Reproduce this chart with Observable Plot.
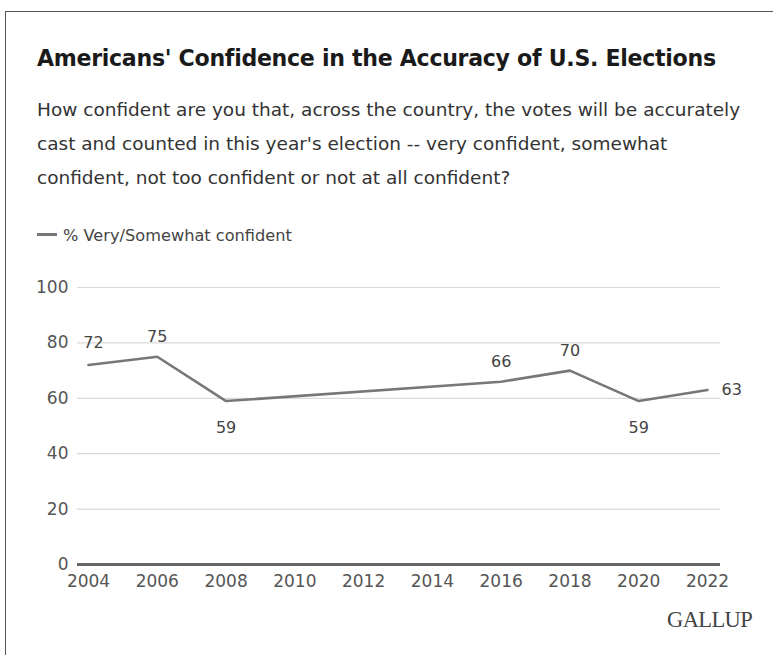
<!DOCTYPE html>
<html>
<head>
<meta charset="utf-8">
<script src="https://cdn.jsdelivr.net/npm/d3@7"></script>
<script src="https://cdn.jsdelivr.net/npm/@observablehq/plot@0.6"></script>
<style>
  html, body { margin: 0; padding: 0; background: #fff; width: 773px; height: 655px; overflow: hidden; }
  body { position: relative; font-family: "DejaVu Sans", sans-serif; }
  #frame { position: absolute; left: 5px; top: 11px; width: 800px; height: 700px; border: 1px solid #555; box-sizing: border-box; }
  #title { position: absolute; left: 37px; top: 45px; font-size: 22px; font-weight: bold; color: #1a1a1a; white-space: nowrap; letter-spacing: -0.3px; }
  #subtitle { position: absolute; left: 37px; top: 93px; width: 705px; font-size: 18.5px; line-height: 34px; color: #333; }
  #legend { position: absolute; left: 37px; top: 226px; font-size: 16.2px; color: #444; white-space: nowrap; }
  #legend .sw { display: inline-block; width: 20px; height: 3px; background: #777; vertical-align: middle; margin-right: 6px; position: relative; top: -2px; }
  #chart { position: absolute; left: 0; top: 260px; }
  #source { position: absolute; left: 667px; top: 607px; font-family: "Liberation Serif", "DejaVu Serif", serif; font-size: 22.5px; color: #444; letter-spacing: -0.6px; }
</style>
</head>
<body>
<div id="frame"></div>
<div id="title">Americans' Confidence in the Accuracy of U.S. Elections</div>
<div id="subtitle">How confident are you that, across the country, the votes will be accurately cast and counted in this year's election -- very confident, somewhat confident, not too confident or not at all confident?</div>
<div id="legend"><span class="sw"></span>% Very/Somewhat confident</div>
<div id="chart"></div>
<div id="source">GALLUP</div>
<script>
const years = [2004, 2006, 2008, 2016, 2018, 2020, 2022];
const values = [72, 75, 59, 66, 70, 59, 63];
const xTicks = [2004, 2006, 2008, 2010, 2012, 2014, 2016, 2018, 2020, 2022];
const yTicks = [0, 20, 40, 60, 80, 100];
const labelsAboveShifted = [2004];
const labelsAbove = [2006, 2016, 2018];
const labelsBelow = [2008, 2020];
const labelsRight = [2022];

// fit title width to the reference
const t = document.getElementById("title");
const w = t.getBoundingClientRect().width;
t.style.fontSize = (22 * 679 / w).toFixed(2) + "px";

const data = years.map((y, i) => ({year: y, value: values[i]}));
const pick = (list) => data.filter(d => list.includes(d.year));
const lbl = {x: "year", y: "value", text: d => String(d.value), fill: "#444", fontSize: 16};

const chart = Plot.plot({
  width: 773,
  height: 334,
  marginLeft: 77,
  marginRight: 53,
  marginTop: 27,
  marginBottom: 30,
  style: {fontFamily: "'DejaVu Sans', sans-serif", fontSize: "17px", color: "#555", background: "transparent"},
  x: {domain: [2004, 2022], insetLeft: 11, insetRight: 13, ticks: xTicks, tickFormat: "d", tickSize: 0, tickPadding: 10, label: null},
  y: {domain: [0, 100], ticks: yTicks, tickSize: 0, tickPadding: 9, label: null},
  marks: [
    Plot.gridY(yTicks.filter(t => t > 0), {stroke: "#d9d9d9", strokeOpacity: 1, strokeWidth: 1.2}),
    Plot.ruleY([0], {stroke: "#666", strokeWidth: 3}),
    Plot.line(data, {x: "year", y: "value", stroke: "#777", strokeWidth: 2.6}),
    Plot.text(pick(labelsAboveShifted), {...lbl, dy: -22, dx: 5}),
    Plot.text(pick(labelsAbove), {...lbl, dy: -20}),
    Plot.text(pick(labelsBelow), {...lbl, dy: 27}),
    Plot.text(pick(labelsRight), {...lbl, dx: 14, textAnchor: "start"})
  ]
});
document.getElementById("chart").appendChild(chart);
</script>
</body>
</html>
